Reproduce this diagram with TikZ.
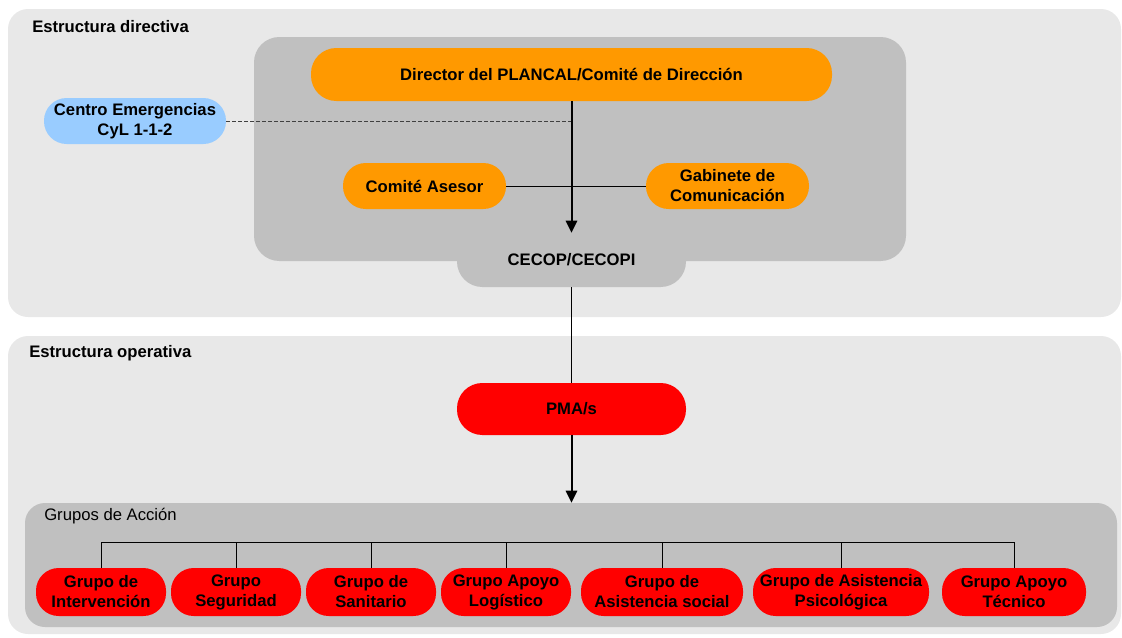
\documentclass[tikz,border=0pt]{standalone}
\usepackage{fontspec}
\setmainfont{Liberation Sans}
\usetikzlibrary{arrows.meta}

\definecolor{panel}{HTML}{E8E8E8}
\definecolor{caja}{HTML}{C0C0C0}
\definecolor{naranja}{HTML}{FF9900}
\definecolor{rojo}{HTML}{FF0000}
\definecolor{azul}{HTML}{99CCFF}

\tikzset{
  pill/.style={rectangle, rounded corners=17pt, align=center, inner sep=0pt,
    font=\fontsize{12.5}{15}\selectfont\bfseries},
  grupo/.style={pill, fill=rojo, minimum height=36pt},
  titulo/.style={anchor=west, inner sep=0pt, font=\fontsize{12.5}{15}\selectfont\bfseries},
  flecha/.style={line width=1.5pt, -{Triangle[length=9pt,width=8.5pt]}},
  fina/.style={line width=0.75pt}
}

\begin{document}
\begin{tikzpicture}[x=0.75pt,y=-0.75pt]
  \useasboundingbox (0,0) rectangle (1122,637);

  % Paneles de fondo
  \fill[panel, rounded corners=15pt] (8,9) rectangle (1121,317);
  \fill[panel, rounded corners=15pt] (8,336) rectangle (1121,634);
  \node[titulo] (tdir) at (32,27) {Estructura directiva};
  \node[titulo] (tope) at (29,353) {Estructura operativa};

  % Caja de la estructura directiva y pestana CECOP
  \fill[caja, rounded corners=19pt] (254,37) rectangle (906,261);
  \node[pill, fill=caja, rounded corners=19pt, minimum width=171.75pt, minimum height=40.5pt]
    (cecop) at (571.5,260) {\raisebox{0pt}{CECOP/CECOPI}};

  % Nodos de direccion
  \node[pill, fill=naranja, rounded corners=19pt, minimum width=390.75pt, minimum height=39.75pt]
    (dir) at (571.5,74.5) {Director del PLANCAL/Comité de Dirección};
  \node[pill, fill=azul, minimum width=136.5pt, minimum height=34.5pt]
    (cen) at (135,121) {Centro Emergencias\\CyL 1-1-2};
  \node[pill, fill=naranja, minimum width=122.25pt, minimum height=34.5pt]
    (ase) at (424.5,186) {Comité Asesor};
  \node[pill, fill=naranja, minimum width=122.25pt, minimum height=34.5pt]
    (gab) at (727.5,186) {Gabinete de\\Comunicación};

  % Conexiones de direccion
  \draw[fina] (ase) -- (gab);
  \draw[line width=0.75pt, draw=black!75, dash pattern=on 3pt off 1.5pt]
    (cen.east) -- (cen.east -| dir.south);
  \draw[flecha] (dir.south) -- (cecop.north);

  % Estructura operativa
  \node[pill, fill=rojo, rounded corners=19pt, minimum width=171.75pt, minimum height=39pt]
    (pma) at (571.5,409) {PMA/s};
  \draw[fina] (cecop.south) -- (pma.north);

  % Grupos de accion
  \node[rectangle, fill=caja, rounded corners=15pt, minimum width=819pt, minimum height=93pt]
    (grupos) at (571,565) {};
  \node[titulo, font=\fontsize{12.5}{15}\selectfont] (tgru) at (44,516) {Grupos de Acción};
  \draw[flecha] (pma.south) -- (pma.south |- grupos.north);

  \node[grupo, minimum width=97.5pt] (g1) at (101,592) {Grupo de\\Intervención};
  \node[grupo, minimum width=97.5pt] (g2) at (236,592) {Grupo\\Seguridad};
  \node[grupo, minimum width=97.5pt] (g3) at (371,592) {Grupo de\\Sanitario};
  \node[grupo, minimum width=97.5pt] (g4) at (506,592) {Grupo Apoyo\\Logístico};
  \node[grupo, minimum width=121.5pt] (g5) at (662,592) {Grupo de\\Asistencia social};
  \node[grupo, minimum width=132pt] (g6) at (841,592) {Grupo de Asistencia\\Psicológica};
  \node[grupo, minimum width=108pt] (g7) at (1014,592) {Grupo Apoyo\\Técnico};

  % Linea de reparto
  \coordinate (bus) at (0,542);
  \draw[fina] (g1.north |- bus) -- (g7.north |- bus);
  \foreach \g in {g1,g2,g3,g4,g5,g6,g7}
    \draw[fina] (\g.north) -- (\g.north |- bus);

\end{tikzpicture}
\end{document}
